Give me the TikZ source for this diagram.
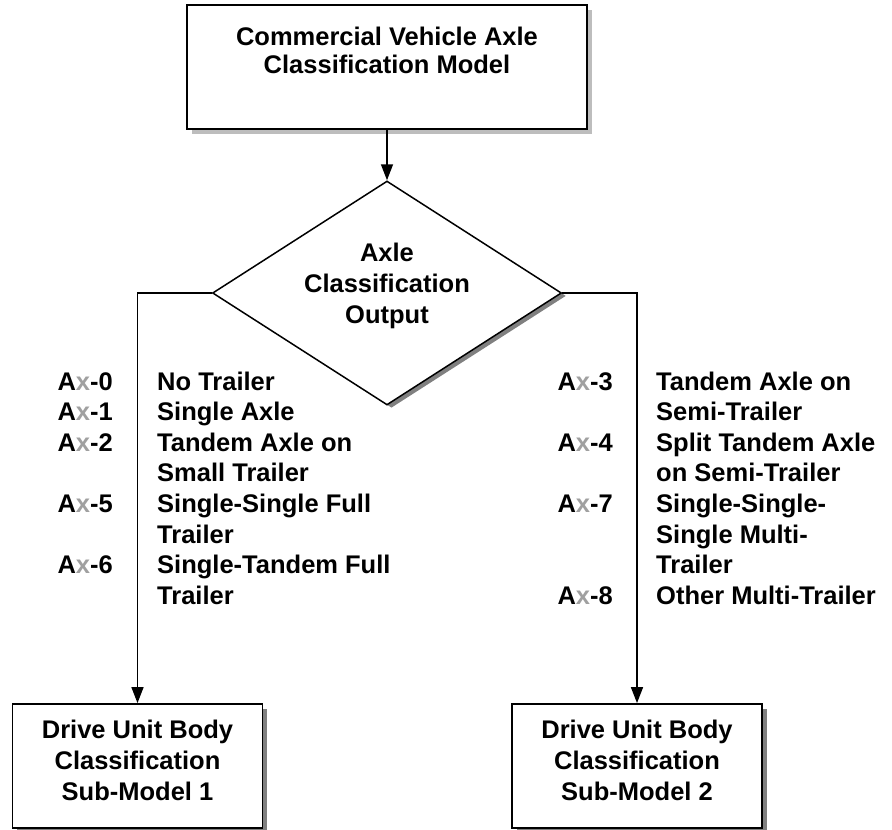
\documentclass[tikz,border=0pt]{standalone}
\usepackage{fontspec}
\setmainfont{Liberation Sans}
\usetikzlibrary{arrows.meta,shapes.geometric}
\definecolor{axgray}{HTML}{A0A0A0}
\definecolor{shd}{HTML}{808080}
\definecolor{shdlight}{HTML}{BDBDBD}
\newcommand\axl[1]{A{\color{axgray}x}-#1}
\begin{document}
\begin{tikzpicture}[x=1pt,y=-1pt,
  font=\fontsize{25.5}{28}\selectfont\bfseries,
  box/.style={draw, line width=1.8pt, fill=white, inner sep=0pt},
  shadowlight/.style={preaction={draw=none, fill=shdlight, transform canvas={shift={(5pt,-5pt)}}}},
  shadowdark/.style={preaction={draw=none, fill=shd, transform canvas={shift={(4.5pt,-4.5pt)}}}},
  diashadow/.style={preaction={draw=none, fill=shd, transform canvas={shift={(4.5pt,-2.9pt)}}}},
  conn/.style={line width=1.5pt, -{Triangle[length=16pt,width=12pt]}},
  txt/.style={align=center, inner sep=0pt},
  lab/.style={anchor=base east, inner sep=0pt},
  desc/.style={anchor=base west, inner sep=0pt}]
\useasboundingbox (0,0) rectangle (892,830);

% top box
\node[box, shadowlight, minimum width=400pt, minimum height=124pt] (top) at (387,67) {};
\node[txt] (toptext) at (387,50) {Commercial Vehicle Axle\\Classification Model};

% diamond
\node[draw, line width=1.5pt, fill=white, diamond, aspect=1.55, inner sep=0pt,
      minimum width=349pt, minimum height=224pt, diashadow] (dia) at (387,293) {};
\node[txt, font=\fontsize{25.5}{31}\selectfont\bfseries] (diatext) at (387,286) {Axle\\Classification\\Output};

% bottom boxes
\node[box, shadowdark, minimum width=250pt, minimum height=124pt] (b1) at (137.5,766) {};
\node[txt, font=\fontsize{25.5}{31}\selectfont\bfseries] (b1text) at (137.5,760) {Drive Unit Body\\Classification\\Sub-Model 1};
\node[box, shadowdark, minimum width=250pt, minimum height=124pt] (b2) at (637,766) {};
\node[txt, font=\fontsize{25.5}{31}\selectfont\bfseries] (b2text) at (637,760) {Drive Unit Body\\Classification\\Sub-Model 2};

% connectors
\draw[conn] (top.south) -- (dia.north);
\draw[conn] (dia.west) -| (b1.north);
\draw[conn] (dia.east) -| (b2.north);

% left list
\node[lab] (l0) at (113,390) {\axl{0}};
\node[lab] (l1) at (113,420.6) {\axl{1}};
\node[lab] (l2) at (113,451.2) {\axl{2}};
\node[lab] (l5) at (113,512.4) {\axl{5}};
\node[lab] (l6) at (113,573.6) {\axl{6}};
\node[desc] (d0) at (157,390) {No Trailer};
\node[desc] (d1) at (157,420.6) {Single Axle};
\node[desc] (d2) at (157,451.2) {Tandem Axle on};
\node[desc] (d2b) at (157,481.8) {Small Trailer};
\node[desc] (d5) at (157,512.4) {Single-Single Full};
\node[desc] (d5b) at (157,543) {Trailer};
\node[desc] (d6) at (157,573.6) {Single-Tandem Full};
\node[desc] (d6b) at (157,604.2) {Trailer};

% right list
\node[lab] (r3) at (613,390) {\axl{3}};
\node[lab] (r4) at (613,451.2) {\axl{4}};
\node[lab] (r7) at (613,512.4) {\axl{7}};
\node[lab] (r8) at (613,604.2) {\axl{8}};
\node[desc] (e3) at (656,390) {Tandem Axle on};
\node[desc] (e3b) at (656,420.6) {Semi-Trailer};
\node[desc] (e4) at (656,451.2) {Split Tandem Axle};
\node[desc] (e4b) at (656,481.8) {on Semi-Trailer};
\node[desc] (e7) at (656,512.4) {Single-Single-};
\node[desc] (e7b) at (656,543) {Single Multi-};
\node[desc] (e7c) at (656,573.6) {Trailer};
\node[desc] (e8) at (656,604.2) {Other Multi-Trailer};
\end{tikzpicture}
\end{document}
